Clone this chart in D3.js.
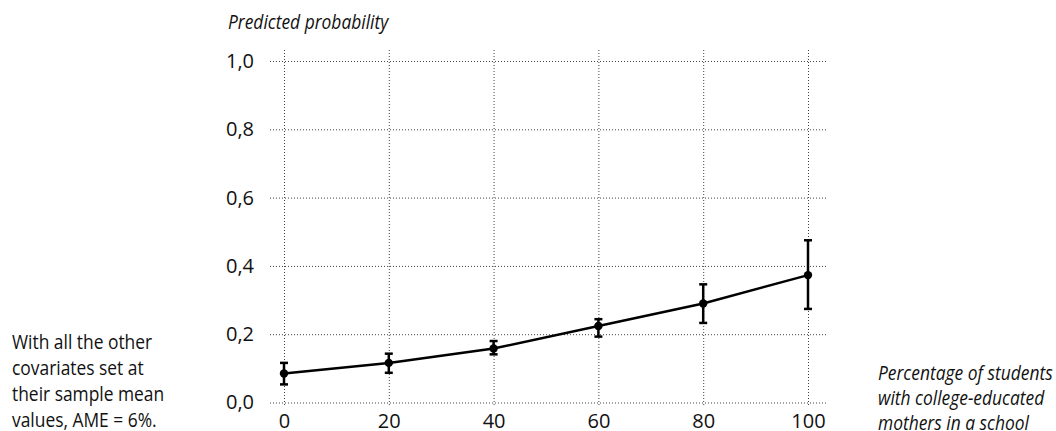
<!DOCTYPE html>
<html>
<head>
<meta charset="utf-8">
<script src="https://cdn.jsdelivr.net/npm/d3@7"></script>
<style>
  body { margin: 0; background: #fff; }
  text { font-family: "Open Sans", sans-serif; font-size: 20px; fill: #111; }
</style>
</head>
<body>
<div id="container"></div>
<script>
/* CONSTANTS AND GLOBALS */
const width = 1056,
  height = 431,
  squeeze = 0.87; // semi-condensed look for the words

/* DATA */
const pctMothers = [0, 20, 40, 60, 80, 100]
const predicted = [0.085, 0.116, 0.158, 0.224, 0.290, 0.373]
const ciLow = [0.053, 0.087, 0.141, 0.193, 0.233, 0.274]
const ciHigh = [0.116, 0.143, 0.180, 0.244, 0.346, 0.475]
const yTicks = [0, 0.2, 0.4, 0.6, 0.8, 1.0]
const xTicks = [0, 20, 40, 60, 80, 100]
const yTitle = 'Predicted probability'
const xTitle = ['Percentage of students', 'with college-educated', 'mothers in a school']
const note = ['With all the other', 'covariates set at', 'their sample mean', 'values, AME = 6%.']

const data = pctMothers.map((x, i) => ({ x, y: predicted[i], lo: ciLow[i], hi: ciHigh[i] }))

// SCALES
const xScale = d3.scaleLinear()
  .domain([0, 100])
  .range([284, 808])

const yScale = d3.scaleLinear()
  .domain([0, 1])
  .range([402.5, 61])

const comma = d3.formatLocale({ decimal: ',', thousands: '.', grouping: [3], currency: ['', ''] })

// CREATE SVG ELEMENT
const svg = d3.select('#container')
  .append('svg')
  .attr('width', width)
  .attr('height', height)

// AXES WITH GRIDLINES
const gridLeft = 270, gridRight = 828, gridTop = 50, gridBottom = 405

const yAxis = d3.axisLeft(yScale)
  .tickValues(yTicks)
  .tickFormat(comma.format('.1f'))
  .tickSizeInner(-(gridRight - gridLeft))
  .tickSizeOuter(0)
  .tickPadding(16)

svg.append('g')
  .attr('transform', `translate(${gridLeft}, 0)`)
  .call(yAxis)
  .call(g => g.select('.domain').remove())
  .call(g => g.selectAll('.tick line')
    .attr('stroke', '#444')
    .attr('stroke-dasharray', '1,2'))
  .call(g => g.selectAll('.tick text')
    .attr('fill', '#111')
    .style('font-size', '20px')
    .style('font-family', '"Open Sans", sans-serif'))

const xAxis = d3.axisBottom(xScale)
  .tickValues(xTicks)
  .tickFormat(d3.format('d'))
  .tickSizeInner(-(gridBottom - gridTop))
  .tickSizeOuter(0)
  .tickPadding(9)

svg.append('g')
  .attr('transform', `translate(0, ${gridBottom})`)
  .call(xAxis)
  .call(g => g.select('.domain').remove())
  .call(g => g.selectAll('.tick line')
    .attr('stroke', '#444')
    .attr('stroke-dasharray', '1,2'))
  .call(g => g.selectAll('.tick text')
    .attr('fill', '#111')
    .style('font-size', '20px')
    .style('font-family', '"Open Sans", sans-serif')
    .attr('y', 9))

// LINE
const lineGen = d3.line()
  .x(d => xScale(d.x))
  .y(d => yScale(d.y))

svg.append('path')
  .attr('d', lineGen(data))
  .attr('fill', 'none')
  .attr('stroke', '#000')
  .attr('stroke-width', 2.5)

// ERROR BARS
const bars = svg.selectAll('.ci')
  .data(data)
  .join('g')
  .attr('class', 'ci')
  .attr('stroke', '#000')
  .attr('stroke-width', 2.5)

bars.append('line')
  .attr('x1', d => xScale(d.x)).attr('x2', d => xScale(d.x))
  .attr('y1', d => yScale(d.lo)).attr('y2', d => yScale(d.hi))

bars.selectAll('.cap')
  .data(d => [d.lo, d.hi].map(v => ({ x: d.x, v })))
  .join('line')
  .attr('class', 'cap')
  .attr('x1', d => xScale(d.x) - 4).attr('x2', d => xScale(d.x) + 4)
  .attr('y1', d => yScale(d.v)).attr('y2', d => yScale(d.v))

// POINTS
svg.selectAll('.pt')
  .data(data)
  .join('circle')
  .attr('class', 'pt')
  .attr('cx', d => xScale(d.x))
  .attr('cy', d => yScale(d.y))
  .attr('r', 4.2)
  .attr('fill', '#000')

// TITLES AND NOTE
svg.append('text')
  .attr('transform', `translate(228, 29) scale(${squeeze},1)`)
  .style('font-style', 'italic')
  .text(yTitle)

svg.append('g')
  .selectAll('text')
  .data(xTitle)
  .join('text')
  .attr('transform', (d, i) => `translate(878, ${379.5 + i * 25}) scale(${squeeze},1)`)
  .style('font-style', 'italic')
  .text(d => d)

svg.append('g')
  .selectAll('text')
  .data(note)
  .join('text')
  .attr('transform', (d, i) => `translate(12, ${348.5 + i * 26}) scale(${squeeze},1)`)
  .text(d => d)
</script>
</body>
</html>
